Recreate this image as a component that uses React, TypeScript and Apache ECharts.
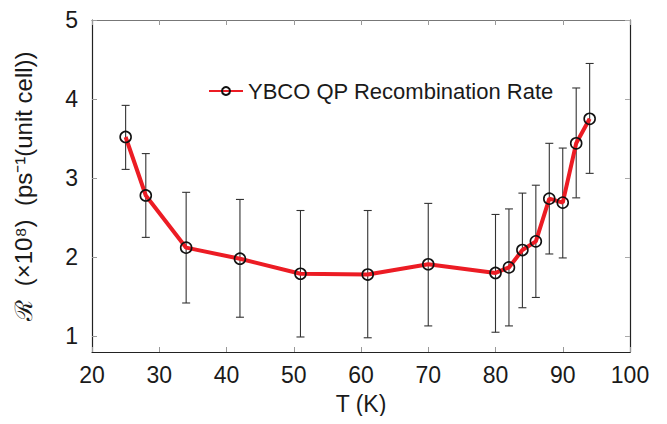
import React, { useEffect, useRef } from "react";
import * as echarts from "echarts";

const temps = [25, 28, 34, 42, 51, 61, 70, 80, 82, 84, 86, 88, 90, 92, 94];
const rates = [3.52, 2.78, 2.12, 1.98, 1.79, 1.78, 1.91, 1.80, 1.87, 2.09, 2.20, 2.74, 2.69, 3.44, 3.75];
const errLow = [3.11, 2.25, 1.42, 1.24, 0.99, 0.98, 1.13, 1.05, 1.13, 1.36, 1.49, 2.04, 1.99, 2.75, 3.06];
const errHigh = [3.92, 3.31, 2.82, 2.73, 2.59, 2.59, 2.68, 2.54, 2.61, 2.81, 2.91, 3.44, 3.38, 4.14, 4.45];
const yTicks = [1, 2, 3, 4, 5];
const seriesName = "YBCO QP Recombination Rate";

export default function App() {
  const ref = useRef<HTMLDivElement>(null);
  useEffect(() => {
    if (!ref.current) return;
    const chart = echarts.init(ref.current, null, { renderer: "svg" });
    const font = "'Liberation Sans', Arial, Helvetica, sans-serif";
    const errData = temps.map((t, i) => [t, errLow[i], errHigh[i]]);
    chart.setOption({
      animation: false,
      backgroundColor: "#ffffff",
      textStyle: { fontFamily: font },
      grid: { left: 92, right: 37, top: 20, bottom: 72 },
      legend: {
        data: [seriesName],
        left: 203,
        top: 75,
        itemWidth: 34,
        itemHeight: 10,
        itemGap: 5,
        textStyle: { fontSize: 22, color: "#1a1a1a", fontFamily: font },
      },
      xAxis: [
        {
          type: "value",
          min: 20,
          max: 100,
          interval: 10,
          name: "T (K)",
          nameLocation: "middle",
          nameGap: 40,
          nameTextStyle: { fontSize: 23, color: "#1a1a1a", fontFamily: font },
          axisLine: { show: true, lineStyle: { color: "#222", width: 1.2 } },
          axisTick: { show: true, inside: true, length: 5, lineStyle: { color: "#999" } },
          axisLabel: { fontSize: 23, color: "#1a1a1a", margin: 11, fontFamily: font },
          splitLine: { show: false },
        },
        {
          type: "value",
          position: "top",
          min: 20,
          max: 100,
          interval: 10,
          axisLine: { show: true, lineStyle: { color: "#777", width: 1.2 } },
          axisTick: { show: true, inside: true, length: 5, lineStyle: { color: "#999" } },
          axisLabel: { show: false },
          splitLine: { show: false },
        },
      ],
      yAxis: [
        {
          type: "value",
          min: 0.8,
          max: 5,
          interval: 1,
          axisLabel: {
            fontSize: 23,
            color: "#1a1a1a",
            margin: 14,
            fontFamily: font,
            customValues: yTicks,
          },
          axisTick: { show: true, inside: true, length: 5, lineStyle: { color: "#999" }, customValues: yTicks },
          name: "ℛ  (×10⁸)  (ps⁻¹(unit cell))",
          nameLocation: "middle",
          nameGap: 57,
          nameTextStyle: { fontSize: 24, color: "#1a1a1a", fontFamily: font },
          axisLine: { show: true, lineStyle: { color: "#222", width: 1.2 } },
          splitLine: { show: false },
        },
        {
          type: "value",
          position: "right",
          min: 0.8,
          max: 5,
          interval: 1,
          axisLine: { show: true, lineStyle: { color: "#222", width: 1.2 } },
          axisTick: { show: true, inside: true, length: 5, lineStyle: { color: "#aaa" }, customValues: yTicks },
          axisLabel: { show: false },
          splitLine: { show: false },
        },
      ],
      series: [
        {
          type: "custom",
          name: "err",
          xAxisIndex: 0,
          yAxisIndex: 0,
          data: errData,
          z: 1,
          renderItem: (params: any, api: any) => {
            const x = api.value(0);
            const lo = api.coord([x, api.value(1)]);
            const hi = api.coord([x, api.value(2)]);
            const cap = 4;
            const st = { stroke: "#333", lineWidth: 1.1 };
            return {
              type: "group",
              children: [
                { type: "line", shape: { x1: lo[0], y1: lo[1], x2: hi[0], y2: hi[1] }, style: st },
                { type: "line", shape: { x1: lo[0] - cap, y1: lo[1], x2: lo[0] + cap, y2: lo[1] }, style: st },
                { type: "line", shape: { x1: hi[0] - cap, y1: hi[1], x2: hi[0] + cap, y2: hi[1] }, style: st },
              ],
            };
          },
        },
        {
          type: "line",
          name: seriesName,
          xAxisIndex: 0,
          yAxisIndex: 0,
          data: temps.map((t, i) => [t, rates[i]]),
          z: 3,
          lineStyle: { color: "#ec1c24", width: 4 },
          itemStyle: { color: "transparent", borderColor: "#111", borderWidth: 1.6 },
          symbol: "circle",
          symbolSize: 11,
          showSymbol: true,
        },
      ],
    });
    return () => chart.dispose();
  }, []);
  return <div ref={ref} style={{ width: 667, height: 424, margin: -8 }} />;
}
